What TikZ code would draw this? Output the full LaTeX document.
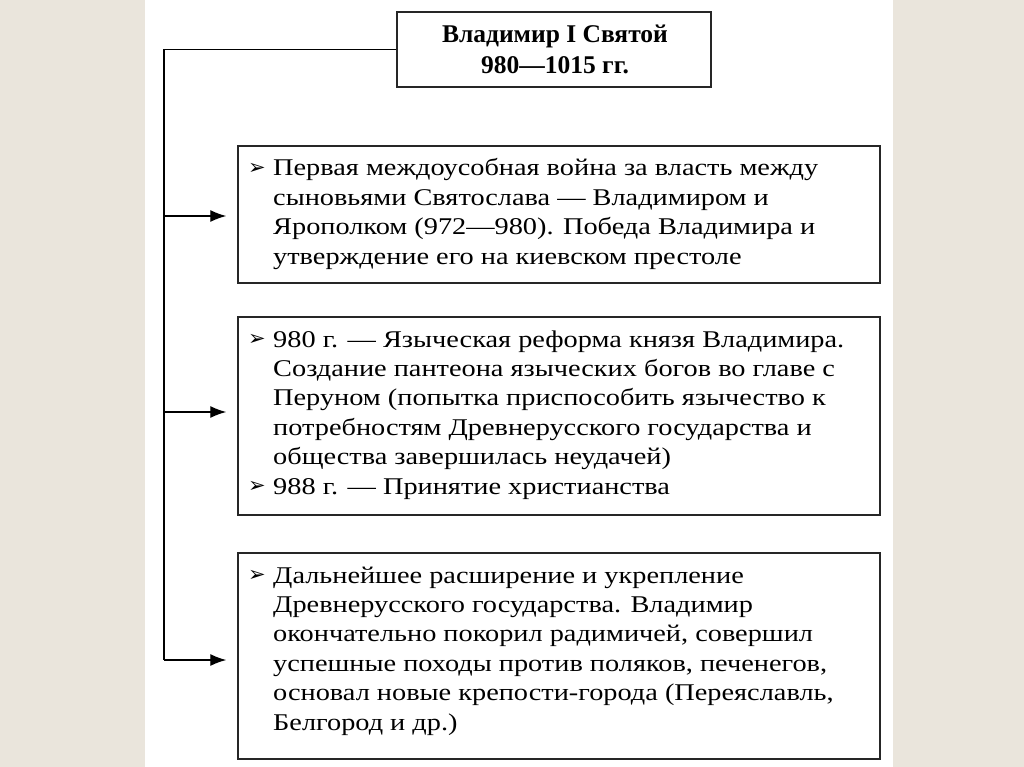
\documentclass[tikz,border=0pt]{standalone}
\usepackage{fontspec}
\setmainfont{Liberation Serif}
\newfontfamily\widefont[FakeStretch=1.18]{Liberation Serif}
\newfontfamily\bulfont{DejaVu Sans}
\usetikzlibrary{arrows.meta}
\newcommand{\bul}{\makebox[25pt][l]{\raisebox{1.5pt}{\bulfont\bfseries\fontsize{21}{21}\selectfont ➢}}}
\newcommand{\ind}{\hspace*{25pt}}
\begin{document}
\begin{tikzpicture}[x=1pt,y=-1pt,
  box/.style={draw=black!85, line width=1.4pt, minimum width=642pt, inner sep=0pt},
  txt/.style={anchor=base west, inner sep=0pt, font=\widefont\fontsize{24}{29.4}\selectfont},
  conn/.style={line width=1.3pt, black},
  arr/.style={conn, -{Latex[length=16pt,width=12pt]}, shorten >=11pt}]
\useasboundingbox (0,0) rectangle (1024,767);
\fill[color={rgb,255:red,234;green,229;blue,220}] (0,0) rectangle (1024,767);
\fill[white] (145,0) rectangle (893,767);
% title
\node[draw=black!85, line width=1.4pt, minimum width=314pt, minimum height=75pt, inner sep=0pt] (title) at (554,49.5) {};
\node[anchor=base, inner sep=0pt, font=\bfseries\fontsize{25.5}{31}\selectfont] (tt) at (555,43)
  {\begin{tabular}[t]{@{}c@{}}Владимир I Святой\\980—1015 гг.\end{tabular}};
% boxes
\node[box, minimum height=137pt] (b1) at (559,214.5) {};
\node[box, minimum height=198pt] (b2) at (559,416) {};
\node[box, minimum height=206pt] (b3) at (559,656) {};
\node[txt] (t1) at (248,176) {\begin{tabular}[t]{@{}l@{}}\bul Первая междоусобная война за власть между\\
\ind сыновьями Святослава — Владимиром и\\
\ind Ярополком (972—980). Победа Владимира и\\
\ind утверждение его на киевском престоле\end{tabular}};
\node[txt] (t2) at (248,347) {\begin{tabular}[t]{@{}l@{}}\bul 980 г. — Языческая реформа князя Владимира.\\
\ind Создание пантеона языческих богов во главе с\\
\ind Перуном (попытка приспособить язычество к\\
\ind потребностям Древнерусского государства и\\
\ind общества завершилась неудачей)\\
\bul 988 г. — Принятие христианства\end{tabular}};
\node[txt] (t3) at (248,583) {\begin{tabular}[t]{@{}l@{}}\bul Дальнейшее расширение и укрепление\\
\ind Древнерусского государства. Владимир\\
\ind окончательно покорил радимичей, совершил\\
\ind успешные походы против поляков, печенегов,\\
\ind основал новые крепости-города (Переяславль,\\
\ind Белгород и др.)\end{tabular}};
% connectors
\coordinate (top) at (164,49.5);
\coordinate (j1) at (164,216);
\coordinate (j2) at (164,412);
\coordinate (j3) at (164,660);
\draw[conn] (title.west) -- (top) -- (j3);
\draw[arr] (j1) -- (j1 -| b1.west);
\draw[arr] (j2) -- (j2 -| b2.west);
\draw[arr] (j3) -- (j3 -| b3.west);
\end{tikzpicture}
\end{document}
